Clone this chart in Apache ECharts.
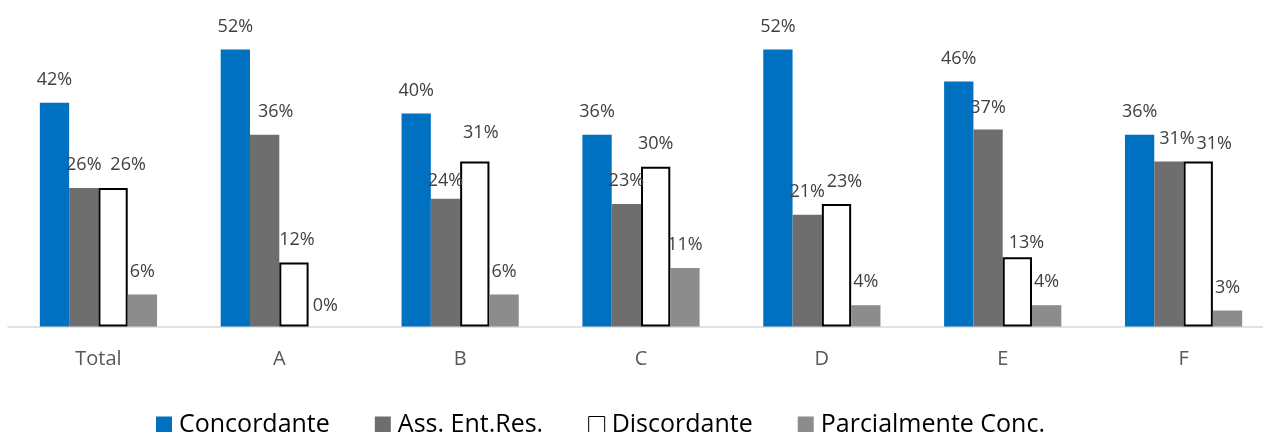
<!DOCTYPE html>
<html><head><meta charset="utf-8">
<script src="https://cdn.jsdelivr.net/npm/echarts@6/dist/echarts.min.js"></script>
<style>html,body{margin:0;padding:0;background:#fff}#c{width:1263px;height:432px}</style>
</head><body><div id="c"></div>
<script>
const categories = ['Total','A','B','C','D','E','F'];
const concordante = [42,52,40,36,52,46,36];
const assEntRes = [26,36,24,23,21,37,31];
const discordante = [26,12,31,30,23,13,31];
const parcialmente = [6,0,6,11,4,4,3];
const seriesNames = ['Concordante','Ass. Ent.Res.','Discordante','Parcialmente Conc.'];

const FONT = 'Open Sans';
// hand-placed label nudges in the reference (series index -> category index -> [dx,dy])
const labelNudges = {
  1: {1:[11,0], 2:[0,5], 5:[0,1], 6:[8,0]},
  2: {0:[15,0], 1:[3,0], 2:[6,-6], 4:[8,1], 5:[9,9], 6:[16,5]},
  3: {1:[2,2]}
};
const baseLabel = {show:true, position:'top', distance:14, formatter:'{c}%', color:'#404040', fontSize:18, fontFamily:FONT};
function bar(idx, data, style){
  const nud = labelNudges[idx] || {};
  return {
    name: seriesNames[idx], type:'bar', barWidth:29.3, barGap:'0%', itemStyle:style, label:baseLabel,
    emphasis:{disabled:true},
    data: data.map((v,i)=> nud[i] ? {value:v, label:{offset:nud[i]}} : v)
  };
}
const chart = echarts.init(document.getElementById('c'));
chart.setOption({
  animation:false,
  grid:{left:8, width:1266, top:7, bottom:105.5, containLabel:false, outerBoundsMode:'none'},
  legend:{
    top:407, left:151, itemWidth:16, itemHeight:16, itemGap:45,
    textStyle:{fontSize:25, fontFamily:FONT, color:'#000', padding:[0,0,0,2]},
    data:[
      {name:seriesNames[0], icon:'rect'},
      {name:seriesNames[1], icon:'rect'},
      {name:seriesNames[2], icon:'rect', itemStyle:{color:'#fff', borderColor:'#000', borderWidth:1}},
      {name:seriesNames[3], icon:'rect'}
    ]
  },
  xAxis:{type:'category', data:categories,
    axisLine:{lineStyle:{color:'#D9D9D9', width:1.5}}, axisTick:{show:false},
    axisLabel:{color:'#595959', fontSize:20, fontFamily:FONT, margin:23}},
  yAxis:{type:'value', min:0, max:60, show:false, splitLine:{show:false}},
  series:[
    bar(0, concordante, {color:'#0070C0'}),
    bar(1, assEntRes, {color:'#6E6E6E'}),
    bar(2, discordante, {color:'#FFFFFF', borderColor:'#000', borderWidth:2}),
    bar(3, parcialmente, {color:'#8C8C8C'})
  ]
});
</script></body></html>
